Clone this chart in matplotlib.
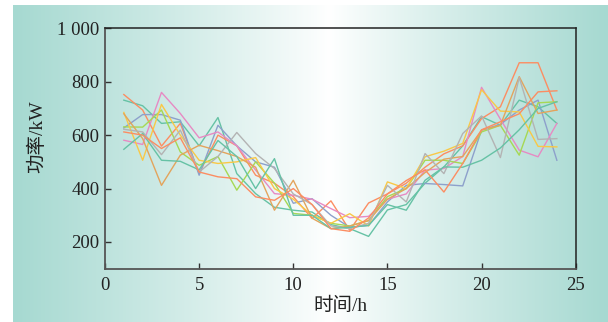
import numpy as np
import matplotlib
matplotlib.use("Agg")
import matplotlib.pyplot as plt
from matplotlib.colors import LinearSegmentedColormap

plt.rcParams['font.family'] = ['Liberation Serif', 'Noto Sans CJK SC']

hours = list(range(1, 25))

# Daily power profiles (kW), one per load curve
teal_a = [731, 710, 644, 650, 560, 666, 456, 381, 330, 319, 312, 265, 250, 221, 320, 340, 420, 481, 560, 669, 637, 731, 706, 644]
orange_a = [752, 694, 559, 644, 456, 600, 560, 450, 420, 370, 288, 354, 244, 346, 380, 420, 480, 530, 560, 662, 706, 871, 871, 694]
purple = [627, 677, 677, 656, 450, 637, 560, 500, 480, 345, 362, 300, 255, 262, 350, 412, 419, 415, 410, 619, 640, 694, 731, 506]
pink = [581, 565, 760, 681, 590, 612, 560, 469, 381, 375, 360, 325, 291, 296, 360, 380, 469, 475, 520, 779, 660, 544, 519, 644]
green = [631, 630, 694, 537, 487, 520, 394, 500, 420, 307, 300, 270, 260, 280, 370, 400, 506, 506, 494, 612, 637, 525, 721, 725]
yellow = [685, 506, 715, 600, 506, 494, 500, 516, 400, 360, 300, 270, 306, 260, 425, 400, 519, 540, 569, 770, 690, 687, 558, 556]
tan = [680, 587, 412, 525, 562, 542, 520, 480, 319, 431, 289, 250, 260, 280, 360, 400, 460, 510, 520, 619, 637, 819, 681, 694]
gray = [622, 612, 527, 619, 462, 520, 610, 531, 475, 380, 340, 260, 250, 270, 412, 350, 531, 456, 606, 672, 516, 816, 584, 587]
teal_b = [547, 606, 506, 502, 470, 580, 520, 400, 512, 300, 300, 250, 255, 262, 340, 319, 431, 481, 480, 506, 552, 620, 700, 725]
orange_b = [612, 600, 550, 590, 462, 444, 437, 369, 356, 400, 340, 250, 240, 290, 380, 430, 470, 387, 494, 620, 650, 680, 762, 766]

series = [teal_a, orange_a, purple, pink, green, yellow, tan, gray, teal_b, orange_b]
colors = ['#66c2a5', '#fc8d62', '#8da0cb', '#e78ac3', '#a6d854', '#f9c846',
          '#e3a45c', '#b3b3b3', '#66c2a5', '#fc8d62']

x_ticks = [0, 5, 10, 15, 20, 25]
y_ticks = [200, 400, 600, 800, 1000]
y_tick_labels = ['200', '400', '600', '800', '1 000']

W, H = 608, 322
fig = plt.figure(figsize=(W / 100, H / 100), dpi=100)
fig.patch.set_facecolor('white')

# Horizontal teal-white-teal backdrop
bg = fig.add_axes([13 / W, 0, (W - 13) / W, (H - 5) / H])
bg.set_axis_off()
xs = np.linspace(13, W, 600)
centre = 330.0
t = np.where(xs < centre, (centre - xs) / (centre - 13), (xs - centre) / (W - centre))
t = np.clip(t, 0, 1) ** 0.9
grad = np.tile(t, (2, 1))
cmap = LinearSegmentedColormap.from_list('bgmap', ['#ffffff', '#a6d9d1'])
bg.imshow(grad, aspect='auto', cmap=cmap, vmin=0, vmax=1, extent=[0, 1, 0, 1])
bg.set_xlim(0, 1)
bg.set_ylim(0, 1)

ax = fig.add_axes([105 / W, (H - 268.7) / H, (575.7 - 105) / W, (268.7 - 28.3) / H])
ax.set_facecolor('none')

for vals, c in zip(series, colors):
    ax.plot(hours, vals, color=c, lw=1.0)

ax.set_xlim(0, 25)
ax.set_ylim(100, 1000)
ax.set_xticks(x_ticks)
ax.set_yticks(y_ticks)
ax.set_yticklabels(y_tick_labels)

for side in ['left', 'bottom']:
    ax.spines[side].set_color('#555555')
    ax.spines[side].set_linewidth(1.3)
for side in ['top', 'right']:
    ax.spines[side].set_color('#222222')
    ax.spines[side].set_linewidth(1.1)

ax.tick_params(axis='both', direction='in', length=4, width=1.0, colors='#333333',
               labelsize=13.5, labelcolor='#222222')
ax.tick_params(axis='y', pad=4)
ax.tick_params(axis='x', pad=6)

ax.set_xlabel('时间/h', fontsize=14, color='#222222', labelpad=0)
ax.xaxis.set_label_coords(0.5, -0.115)
ax.set_ylabel('功率/kW', fontsize=14, color='#222222')
ax.yaxis.set_label_coords(-0.125, 0.55)

fig.savefig('out.png', dpi=100)
